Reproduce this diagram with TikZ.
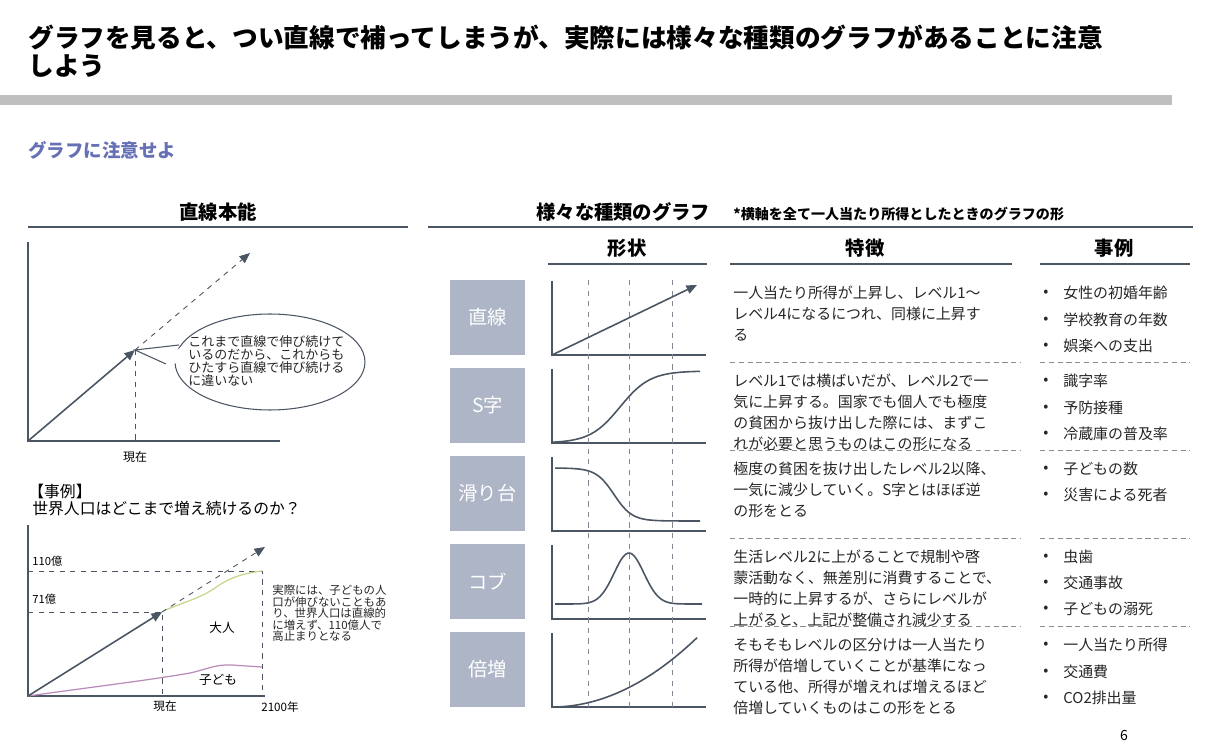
\documentclass[tikz,border=0pt]{standalone}
\usepackage{fontspec}
\setmainfont{Noto Sans CJK JP}
\usetikzlibrary{positioning,arrows.meta,shapes.geometric}

\definecolor{slate}{HTML}{4B5563}
\definecolor{boxgray}{HTML}{ADB5C6}
\definecolor{rulegray}{HTML}{BFBFBF}
\definecolor{subblue}{HTML}{6670B4}
\definecolor{adultgreen}{HTML}{C4D68A}
\definecolor{childpurple}{HTML}{B98BB8}

% sizes: 1 px of the reference = 0.567pt
\newcommand{\fsz}[1]{\fontsize{#1pt}{#1pt}\selectfont}

\tikzset{
  axis/.style={draw=slate, line width=0.8pt},
  guide/.style={draw=slate, dashed, line width=0.5pt},
  curve/.style={draw=slate, line width=0.9pt},
  tip/.style={-{Triangle[length=6pt,width=5pt]}},
  kindbox/.style={fill=boxgray, minimum width=1.5cm, minimum height=1.5cm, text=white, font=\fsz{11}},
  feat/.style={anchor=west, font=\fsz{8.5}, text=black!85, inner sep=0pt},
  caseitem/.style={anchor=west, font=\fsz{8.5}, text=black!85, inner sep=0pt},
  colhead/.style={font=\bfseries\fsz{11}, inner sep=0pt},
  sepline/.style={draw=black!45, densely dashed, line width=0.4pt},
}

\begin{document}
\begin{tikzpicture}[x=0.02cm, y=-0.02cm]
    \useasboundingbox (0,0) rectangle (1223,756);

    % Title and header
    \node[anchor=west, font=\bfseries\fsz{14.6}, inner sep=0pt] (title1) at (28,38) {グラフを見ると、つい直線で補ってしまうが、実際には様々な種類のグラフがあることに注意};
    \node[anchor=west, font=\bfseries\fsz{14.6}, inner sep=0pt] (title2) at (28,66) {しよう};
    \fill[rulegray] (0,95) rectangle (1172,105);
    \node[anchor=west, font=\bfseries\fsz{10.5}, text=subblue, inner sep=0pt] (sub) at (28,150) {グラフに注意せよ};

    % Section heads
    \node[colhead] (straighthead) at (218,212) {直線本能};
    \draw[slate, line width=0.6pt] (28,227) -- (408,227);
    \node[colhead, anchor=west] (kindhead) at (536,212) {様々な種類のグラフ};
    \node[anchor=west, font=\bfseries\fsz{8}, inner sep=0pt] (kindnote) at (733,214) {*横軸を全て一人当たり所得としたときのグラフの形};
    \draw[slate, line width=0.6pt] (428,227) -- (1193,227);

    \node[colhead] (shapehead) at (627,248) {形状};
    \node[colhead] (feathead) at (865,248) {特徴};
    \node[colhead] (casehead) at (1114,248) {事例};
    \draw[slate, line width=0.6pt] (548,264) -- (707,264);
    \draw[slate, line width=0.6pt] (730,264) -- (1012,264);
    \draw[slate, line width=0.6pt] (1040,264) -- (1190,264);

    % Left top chart
    \draw[axis] (28,242) -- (28,441) -- (280,441);
    \coordinate (origA) at (28,441);
    \coordinate (nowA) at (135,350);
    \coordinate (goalA) at (250,253);
    \draw[curve, tip] (origA) -- (nowA);
    \draw[guide, tip] (nowA) -- (goalA);
    \draw[guide] (nowA) -- (135,441);
    \node[font=\fsz{6.8}, inner sep=0pt] (nowlabelA) at (135,457) {現在};
    \node[ellipse, draw=slate, line width=0.6pt, fill=white, minimum width=190\pgflinewidth, inner sep=0pt,
          minimum width=3.8cm, minimum height=1.92cm] (bubble) at (270,362) {};
    \draw[slate, fill=white, line width=0.6pt] (179,345) -- (nowA) -- (166,364);
    \fill[white] (181,347) -- (175,352) -- (168,362) -- (178,364) -- cycle;
    \node[anchor=north west, align=left, font=\fsz{7.4}, inner sep=0pt, text=black!85] (bubbletext) at (188,335)
        {これまで直線で伸び続けて\\いるのだから、これからも\\ひたすら直線で伸び続ける\\に違いない};

    % Example
    \node[anchor=west, font=\fsz{9}, inner sep=0pt] (casetag) at (28,491) {【事例】};
    \node[anchor=west, font=\fsz{9}, inner sep=0pt] (caseq) at (32,509) {世界人口はどこまで増え続けるのか？};

    % Left bottom chart
    \draw[axis] (28,525) -- (28,696) -- (265,696);
    \coordinate (origB) at (28,696);
    \coordinate (nowB) at (162,612);
    \coordinate (goalB) at (265,547);
    \draw[guide] (28,571) -- (262,571) -- (262,696);
    \draw[guide] (28,612) -- (162,612) -- (162,696);
    \draw[adultgreen, line width=0.7pt] (163,611) .. controls (190,600) and (200,598) .. (215,588)
        .. controls (230,577) and (245,573) .. (262,571);
    \draw[childpurple, line width=0.7pt] (origB) .. controls (100,686) and (150,680) .. (190,673)
        .. controls (205,670) and (215,664) .. (232,665) -- (262,667);
    \draw[curve, tip] (origB) -- (nowB);
    \draw[guide, tip] (nowB) -- (goalB);
    \node[anchor=west, font=\fsz{6.4}, inner sep=0pt] (lab110) at (32,561) {110億};
    \node[anchor=west, font=\fsz{6.4}, inner sep=0pt] (lab71) at (32,599) {71億};
    \node[font=\fsz{7.2}, inner sep=0pt] (adult) at (222,628) {大人};
    \node[font=\fsz{7.2}, inner sep=0pt] (child) at (218,680) {子ども};
    \node[font=\fsz{6.6}, inner sep=0pt] (nowlabelB) at (165,706) {現在};
    \node[font=\fsz{6.6}, inner sep=0pt] (yearlabel) at (280,707) {2100年};
    \node[anchor=north west, align=left, font=\fsz{6.5}, inner sep=0pt, text=black!85] (popnote) at (272,585)
        {実際には、子どもの人\\口が伸びないこともあ\\り、世界人口は直線的\\に増えず、110億人で\\高止まりとなる};

    % Kinds of graphs
    \foreach \k/\name in {0/直線, 1/S字, 2/滑り台, 3/コブ, 4/倍増} {
        \node[kindbox] (kind\k) at (487.5, 317.5+88*\k) {\name};
        \draw[axis] (552, 281+88*\k) -- (552, 355+88*\k) -- (706, 355+88*\k);
    }
    \foreach \gx in {588,629,672}
        \draw[guide, draw=slate!70] (\gx,280) -- (\gx,708);

    \begin{scope}[shift={(552,355)}]
        \coordinate (lineS) at (0,0);
        \coordinate (lineE) at (145,-70);
        \draw[curve, tip] (lineS) -- (lineE);
    \end{scope}
    \begin{scope}[shift={(552,443)}]
        \draw[curve] plot[domain=0:148, samples=60] (\x, {-72/(1+exp(-(\x-68)/15))});
    \end{scope}
    \begin{scope}[shift={(552,531)}]
        \draw[curve] plot[domain=3:148, samples=60] (\x, {-(10+53/(1+exp((\x-62)/9)))});
    \end{scope}
    \begin{scope}[shift={(552,619)}]
        \draw[curve] plot[domain=3:150, samples=70] (\x, {-(15+51*exp(-((\x-77)/21)^2))});
    \end{scope}
    \begin{scope}[shift={(552,707)}]
        \draw[curve] plot[domain=0:145, samples=50] (\x, {-0.0033*\x*\x});
    \end{scope}

    % Features
    \node[feat] (f0a) at (733,293) {一人当たり所得が上昇し、レベル1〜};
    \node[feat] (f0b) at (733,314) {レベル4になるにつれ、同様に上昇す};
    \node[feat] (f0c) at (733,335) {る};
    \node[feat] (f1a) at (733,381) {レベル1では横ばいだが、レベル2で一};
    \node[feat] (f1b) at (733,402) {気に上昇する。国家でも個人でも極度};
    \node[feat] (f1c) at (733,423) {の貧困から抜け出した際には、まずこ};
    \node[feat] (f1d) at (733,444) {れが必要と思うものはこの形になる};
    \node[feat] (f2a) at (733,469) {極度の貧困を抜け出したレベル2以降、};
    \node[feat] (f2b) at (733,490) {一気に減少していく。S字とはほぼ逆};
    \node[feat] (f2c) at (733,511) {の形をとる};
    \node[feat] (f3a) at (733,557) {生活レベル2に上がることで規制や啓};
    \node[feat] (f3b) at (733,578) {蒙活動なく、無差別に消費することで、};
    \node[feat] (f3c) at (733,599) {一時的に上昇するが、さらにレベルが};
    \node[feat] (f3d) at (733,620) {上がると、上記が整備され減少する};
    \node[feat] (f4a) at (733,645) {そもそもレベルの区分けは一人当たり};
    \node[feat] (f4b) at (733,666) {所得が倍増していくことが基準になっ};
    \node[feat] (f4c) at (733,687) {ている他、所得が増えれば増えるほど};
    \node[feat] (f4d) at (733,708) {倍増していくものはこの形をとる};

    % Separators
    \foreach \sy in {362,450,538,626} {
        \draw[sepline] (730,\sy) -- (1020,\sy);
        \draw[sepline] (1040,\sy) -- (1190,\sy);
    }

    % Cases
    \foreach \cy/\txt in {293/女性の初婚年齢, 320/学校教育の年数, 346/娯楽への支出,
                          381/識字率, 408/予防接種, 434/冷蔵庫の普及率,
                          469/子どもの数/人, 495/災害による死者,
                          557/虫歯, 583/交通事故, 609/子どもの溺死,
                          645/一人当たり所得, 672/交通費/人, 698/CO2排出量/人} {
        \node[caseitem] at (1043,\cy) {•};
        \node[caseitem] at (1063,\cy) {\txt};
    }

    \node[font=\fsz{8}, inner sep=0pt] (pagenum) at (1124,735) {6};
\end{tikzpicture}
\end{document}
